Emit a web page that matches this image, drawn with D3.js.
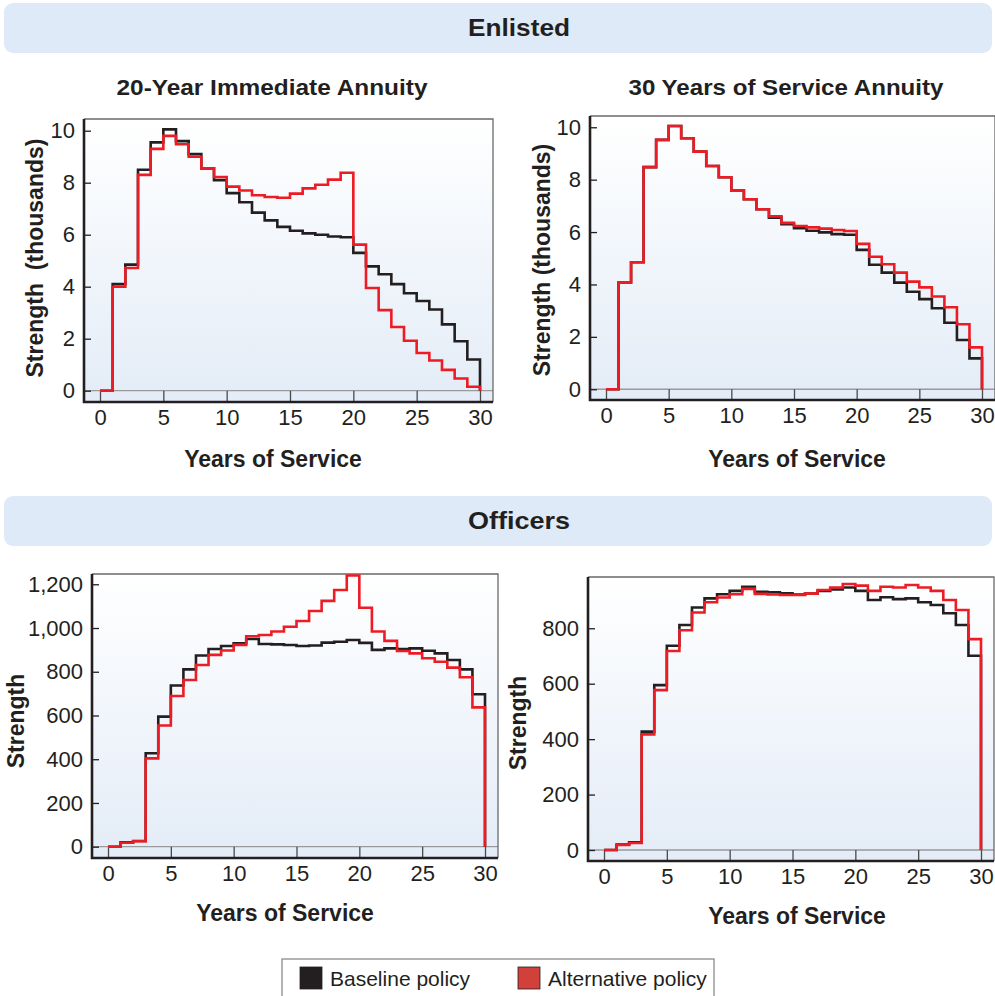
<!DOCTYPE html>
<html>
<head>
<meta charset="utf-8">
<script src="https://cdn.jsdelivr.net/npm/d3@7"></script>
<style>
  body { margin: 0; background: #fff; }
  text { font-family: "Liberation Sans", Arial, Helvetica, sans-serif; fill: #231f20; }
</style>
</head>
<body>
<div id="chart-area"></div>
<script>
const WIDTH = 995
const HEIGHT = 996

// ---- data (one value per year of service, years 0..29) ----
const xTicks = [0, 5, 10, 15, 20, 25, 30]
const enlistedTicks = [0, 2, 4, 6, 8, 10]
const officerTicks20 = [0, 200, 400, 600, 800, 1000, 1200]
const officerTicks30 = [0, 200, 400, 600, 800]
const seriesNames = ["Baseline policy", "Alternative policy"]

const enlisted20Baseline = [0, 4.1, 4.85, 8.5, 9.55, 10.05, 9.6, 9.1, 8.55, 8.1, 7.6, 7.25, 6.85, 6.55, 6.3, 6.15, 6.05, 6.0, 5.93, 5.9, 5.3, 4.78, 4.48, 4.1, 3.75, 3.45, 3.12, 2.55, 1.9, 1.2]
const enlisted20Alternative = [0, 4.0, 4.72, 8.3, 9.3, 9.8, 9.48, 9.0, 8.55, 8.22, 7.85, 7.7, 7.52, 7.45, 7.42, 7.58, 7.78, 7.92, 8.12, 8.38, 5.62, 3.95, 3.1, 2.45, 1.92, 1.45, 1.16, 0.8, 0.47, 0.15]

const enlisted30Baseline = [0, 4.08, 4.85, 8.48, 9.52, 10.05, 9.58, 9.07, 8.52, 8.09, 7.58, 7.25, 6.87, 6.55, 6.3, 6.15, 6.05, 5.99, 5.92, 5.9, 5.32, 4.75, 4.45, 4.07, 3.72, 3.44, 3.09, 2.54, 1.88, 1.18]
const enlisted30Alternative = [0, 4.08, 4.85, 8.48, 9.52, 10.05, 9.58, 9.07, 8.52, 8.09, 7.58, 7.25, 6.87, 6.6, 6.35, 6.23, 6.18, 6.13, 6.08, 6.04, 5.55, 5.06, 4.77, 4.45, 4.11, 3.89, 3.54, 3.13, 2.48, 1.6]

const officers20Baseline = [0, 20, 26, 427, 595, 737, 811, 874, 904, 918, 930, 950, 927, 925, 922, 918, 920, 933, 937, 945, 932, 900, 907, 904, 907, 896, 884, 854, 811, 697]
const officers20Alternative = [0, 18, 25, 404, 554, 689, 762, 831, 877, 897, 923, 962, 968, 984, 1006, 1032, 1078, 1124, 1174, 1240, 1093, 984, 941, 895, 884, 862, 846, 819, 775, 637]

const officers30Baseline = [0, 20, 28, 427, 595, 737, 812, 875, 908, 923, 935, 950, 932, 930, 926, 922, 925, 935, 940, 947, 935, 902, 912, 905, 908, 894, 884, 854, 812, 701]
const officers30Alternative = [0, 18, 25, 417, 577, 718, 793, 857, 894, 911, 923, 942, 924, 922, 920, 920, 925, 938, 947, 960, 954, 935, 950, 947, 956, 947, 935, 902, 866, 761]

const COLORS = { base: "#231f20", alt: "#ed1c24" }

const svg = d3.select("#chart-area")
  .append("svg")
  .attr("width", WIDTH)
  .attr("height", HEIGHT)

const grad = svg.append("defs").append("linearGradient")
  .attr("id", "bg")
  .attr("x1", 0).attr("y1", 0).attr("x2", 0).attr("y2", 1)
grad.append("stop").attr("offset", "0%").attr("stop-color", "#ffffff")
grad.append("stop").attr("offset", "100%").attr("stop-color", "#e3ecf7")

// section bands
function band(y, label) {
  svg.append("rect")
    .attr("x", 4).attr("y", y).attr("width", 988).attr("height", 50)
    .attr("rx", 9)
    .attr("fill", "#deeaf7")
  svg.append("text")
    .attr("x", 519).attr("y", y + 33)
    .attr("text-anchor", "middle")
    .attr("font-weight", "bold")
    .attr("font-size", 24)
    .attr("textLength", 102)
    .attr("lengthAdjust", "spacingAndGlyphs")
    .text(label)
}
band(3, "Enlisted")
band(496, "Officers")

function subtitle(cx, w, label) {
  svg.append("text")
    .attr("x", cx).attr("y", 95)
    .attr("text-anchor", "middle")
    .attr("font-weight", "bold")
    .attr("font-size", 22)
    .attr("textLength", w)
    .attr("lengthAdjust", "spacingAndGlyphs")
    .text(label)
}
subtitle(272, 311, "20-Year Immediate Annuity")
subtitle(786, 315, "30 Years of Service Annuity")

const panels = [
  { box: [84, 119, 493, 402], yDom: [-0.435, 10.45], ticks: enlistedTicks, fmt: d3.format("d"),
    base: enlisted20Baseline, alt: enlisted20Alternative, ytitle: "Strength  (thousands)", ytx: 35, yty: 258, xtx: 273, xty: 467 },
  { box: [590, 116, 995, 400], yDom: [-0.41, 10.43], ticks: enlistedTicks, fmt: d3.format("d"),
    base: enlisted30Baseline, alt: enlisted30Alternative, ytitle: "Strength (thousands)", ytx: 542, yty: 260, xtx: 797, xty: 467 },
  { box: [92, 574, 498, 858], yDom: [-51.7, 1247], ticks: officerTicks20, fmt: d3.format(","),
    base: officers20Baseline, alt: officers20Alternative, ytitle: "Strength", ytx: 16, yty: 721, xtx: 285, xty: 921 },
  { box: [588, 577, 994, 861], yDom: [-39.7, 985], ticks: officerTicks30, fmt: d3.format(","),
    base: officers30Baseline, alt: officers30Alternative, ytitle: "Strength", ytx: 518, yty: 723, xtx: 797, xty: 924 }
]

panels.forEach(p => {
  const [x0, y0, x1, y1] = p.box
  const g = svg.append("g")

  const x = d3.scaleLinear().domain([0, 30]).range([x0 + 16, x1 - 13])
  const y = d3.scaleLinear().domain(p.yDom).range([y1, y0])

  g.append("rect")
    .attr("x", x0).attr("y", y0).attr("width", x1 - x0).attr("height", y1 - y0)
    .attr("fill", "url(#bg)")

  // zero line
  g.append("line")
    .attr("x1", x0).attr("x2", x1).attr("y1", y(0)).attr("y2", y(0))
    .attr("stroke", "#9a9a9a").attr("stroke-width", 1.3)

  // top/right frame
  g.append("path")
    .attr("d", `M${x0},${y0}H${x1}V${y1}`)
    .attr("fill", "none").attr("stroke", "#6a6a6a").attr("stroke-width", 1.3)

  const yAxis = g.append("g")
    .attr("transform", `translate(${x0},0)`)
    .call(d3.axisLeft(y).tickValues(p.ticks).tickFormat(p.fmt)
      .tickSizeInner(-7).tickSizeOuter(0).tickPadding(9))
  yAxis.select(".domain").remove()
  yAxis.selectAll("line").attr("stroke", "#231f20").attr("stroke-width", 1.3)
  yAxis.selectAll("text").attr("font-size", 22).attr("fill", "#231f20")
    .attr("font-family", "Liberation Sans, Arial, sans-serif")

  const xAxis = g.append("g")
    .attr("transform", `translate(0,${y1})`)
    .call(d3.axisBottom(x).tickValues(xTicks)
      .tickSizeInner(-(y1 - y(0))).tickSizeOuter(0).tickPadding(7))
  xAxis.select(".domain").remove()
  xAxis.selectAll("line").attr("stroke", "#4a4a4a").attr("stroke-width", 1.3)
  xAxis.selectAll("text").attr("font-size", 22).attr("fill", "#231f20")
    .attr("font-family", "Liberation Sans, Arial, sans-serif")

  // left + bottom axis lines
  g.append("path")
    .attr("d", `M${x0},${y0}V${y1}H${x1}`)
    .attr("fill", "none").attr("stroke", "#231f20").attr("stroke-width", 2.6)

  const line = d3.line()
    .x(d => x(d[0]))
    .y(d => y(d[1]))
    .curve(d3.curveStepAfter)

  const toSteps = vals => vals.map((v, i) => [i, v]).concat([[30, 0]])

  g.append("path")
    .attr("d", line(toSteps(p.base)))
    .attr("fill", "none").attr("stroke", COLORS.base).attr("stroke-width", 2.6)
  g.append("path")
    .attr("d", line(toSteps(p.alt)))
    .attr("fill", "none").attr("stroke", COLORS.alt).attr("stroke-width", 2.6)

  g.append("text")
    .attr("transform", `translate(${p.ytx},${p.yty}) rotate(-90)`)
    .attr("text-anchor", "middle")
    .attr("dy", "0.35em")
    .attr("font-weight", "bold")
    .attr("font-size", 23)
    .style("white-space", "pre")
    .text(p.ytitle)

  g.append("text")
    .attr("x", p.xtx).attr("y", p.xty)
    .attr("text-anchor", "middle")
    .attr("font-weight", "bold")
    .attr("font-size", 23)
    .text("Years of Service")
})

// legend
const legend = svg.append("g")
legend.append("rect")
  .attr("x", 282).attr("y", 959).attr("width", 432).attr("height", 50)
  .attr("fill", "#fff").attr("stroke", "#8a8a8a").attr("stroke-width", 1.3)

const legendX = [300, 518]
const legendFill = ["#231f20", "#d2403a"]
seriesNames.forEach((name, i) => {
  legend.append("rect")
    .attr("x", legendX[i]).attr("y", 967).attr("width", 22).attr("height", 22)
    .attr("fill", legendFill[i]).attr("stroke", "#231f20").attr("stroke-width", 0.8)
  legend.append("text")
    .attr("x", legendX[i] + 30).attr("y", 986)
    .attr("font-size", 21)
    .text(name)
})
</script>
</body>
</html>
